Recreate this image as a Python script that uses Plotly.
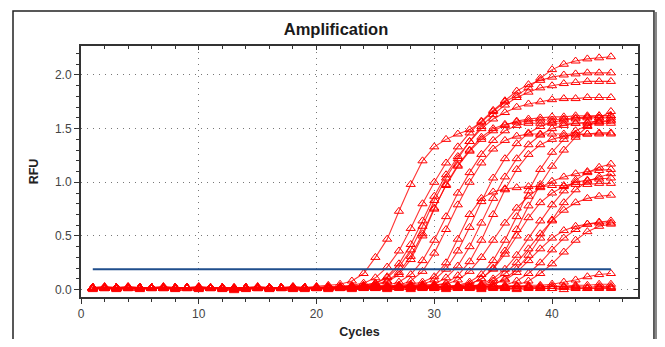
import plotly.graph_objects as go

cycles = list(range(1, 46))

# ---- amplification curves (RFU per cycle) ----
H1 = [0.01,0.02,0.01,0.02,0.01,0.01,0.02,0.01,0.01,0.02,0.01,0.01,0.00,0.01,0.02,
      0.01,0.01,0.02,0.02,0.03,0.04,0.05,0.08,0.15,0.30,0.47,0.73,0.98,1.20,1.33,
      1.40,1.45,1.49,1.56,1.66,1.75,1.81,1.88,1.97,2.05,2.10,2.13,2.15,2.16,2.17]
H2 = [0.02,0.01,0.01,0.02,0.02,0.01,0.01,0.01,0.02,0.01,0.01,0.02,0.01,0.01,0.01,
      0.02,0.01,0.01,0.02,0.02,0.02,0.03,0.04,0.06,0.11,0.21,0.36,0.57,0.80,1.00,
      1.18,1.33,1.46,1.57,1.67,1.76,1.85,1.91,1.95,1.98,2.00,2.01,2.02,2.02,2.02]
H3 = [0.01,0.01,0.02,0.01,0.01,0.02,0.01,0.02,0.01,0.01,0.02,0.01,0.01,0.02,0.01,
      0.01,0.02,0.01,0.02,0.02,0.02,0.03,0.03,0.04,0.06,0.11,0.21,0.37,0.59,0.83,
      1.04,1.22,1.38,1.52,1.63,1.72,1.79,1.84,1.88,1.90,1.92,1.93,1.94,1.94,1.94]
H4 = [0.02,0.02,0.01,0.01,0.02,0.01,0.01,0.02,0.01,0.02,0.01,0.01,0.01,0.01,0.02,
      0.01,0.01,0.01,0.02,0.02,0.02,0.02,0.03,0.04,0.06,0.12,0.24,0.42,0.64,0.87,
      1.07,1.24,1.38,1.50,1.59,1.65,1.70,1.73,1.75,1.77,1.78,1.78,1.79,1.79,1.79]
H5 = [0.01,0.02,0.02,0.01,0.01,0.01,0.02,0.01,0.02,0.01,0.01,0.01,0.02,0.01,0.01,
      0.02,0.01,0.02,0.01,0.02,0.02,0.02,0.03,0.03,0.04,0.07,0.14,0.28,0.50,0.75,
      0.98,1.16,1.30,1.42,1.50,1.54,1.56,1.57,1.58,1.58,1.59,1.59,1.60,1.60,1.60]
H6 = [0.02,0.01,0.01,0.01,0.02,0.02,0.01,0.01,0.01,0.02,0.02,0.01,0.01,0.01,0.02,
      0.01,0.02,0.01,0.01,0.02,0.02,0.02,0.02,0.03,0.03,0.04,0.07,0.14,0.27,0.46,
      0.68,0.90,1.09,1.26,1.39,1.48,1.53,1.55,1.55,1.55,1.55,1.55,1.55,1.55,1.55]
H7 = [0.01,0.01,0.02,0.02,0.01,0.01,0.01,0.02,0.02,0.01,0.01,0.02,0.00,0.01,0.01,
      0.02,0.02,0.01,0.02,0.01,0.02,0.02,0.02,0.03,0.03,0.03,0.04,0.08,0.17,0.34,
      0.56,0.79,1.00,1.18,1.31,1.39,1.43,1.45,1.45,1.45,1.45,1.45,1.45,1.46,1.46]
H8 = [0.02,0.01,0.02,0.01,0.01,0.02,0.01,0.01,0.02,0.01,0.02,0.01,0.01,0.01,0.01,
      0.01,0.02,0.02,0.01,0.02,0.02,0.02,0.03,0.03,0.05,0.08,0.16,0.31,0.52,0.76,
      0.97,1.15,1.29,1.40,1.48,1.53,1.57,1.59,1.60,1.61,1.61,1.62,1.62,1.62,1.62]
M1 = [0.01,0.02,0.01,0.01,0.02,0.01,0.02,0.01,0.01,0.01,0.02,0.01,0.01,0.02,0.01,
      0.01,0.01,0.02,0.01,0.01,0.02,0.02,0.02,0.02,0.03,0.03,0.03,0.04,0.05,0.09,
      0.19,0.36,0.58,0.82,1.04,1.22,1.36,1.46,1.52,1.56,1.58,1.60,1.61,1.62,1.62]
M2 = [0.02,0.01,0.01,0.02,0.01,0.01,0.01,0.02,0.01,0.02,0.01,0.01,0.01,0.01,0.02,
      0.02,0.01,0.01,0.02,0.02,0.01,0.02,0.02,0.02,0.02,0.03,0.03,0.03,0.04,0.05,
      0.11,0.22,0.40,0.62,0.85,1.05,1.22,1.35,1.44,1.50,1.53,1.55,1.56,1.57,1.57]
M3 = [0.01,0.01,0.02,0.02,0.01,0.02,0.01,0.01,0.02,0.01,0.01,0.02,0.01,0.01,0.01,
      0.02,0.01,0.02,0.02,0.01,0.02,0.02,0.02,0.03,0.03,0.03,0.04,0.05,0.07,0.12,
      0.25,0.47,0.70,0.85,0.91,0.94,0.95,0.96,0.96,0.97,0.97,0.98,0.98,0.99,0.99]
M4 = [0.02,0.02,0.01,0.01,0.01,0.02,0.02,0.01,0.01,0.02,0.01,0.01,0.02,0.01,0.01,
      0.01,0.02,0.02,0.01,0.02,0.02,0.01,0.02,0.02,0.03,0.03,0.03,0.03,0.04,0.04,
      0.06,0.13,0.26,0.46,0.70,0.93,1.12,1.26,1.35,1.40,1.43,1.44,1.45,1.45,1.45]
M5 = [0.01,0.02,0.02,0.01,0.01,0.01,0.01,0.02,0.02,0.01,0.01,0.01,0.01,0.02,0.01,
      0.01,0.01,0.02,0.02,0.01,0.02,0.02,0.02,0.02,0.02,0.03,0.03,0.03,0.03,0.04,
      0.05,0.09,0.17,0.30,0.46,0.62,0.76,0.87,0.95,1.01,1.05,1.08,1.10,1.11,1.12]
L0 = [0.02,0.01,0.01,0.01,0.02,0.01,0.01,0.01,0.02,0.02,0.01,0.01,0.01,0.01,0.02,
      0.01,0.02,0.01,0.01,0.02,0.01,0.02,0.02,0.02,0.02,0.02,0.03,0.03,0.03,0.03,
      0.03,0.04,0.07,0.14,0.27,0.46,0.68,0.92,1.12,1.28,1.40,1.48,1.53,1.56,1.58]
L1 = [0.01,0.01,0.01,0.02,0.01,0.02,0.01,0.02,0.01,0.01,0.02,0.01,0.01,0.01,0.01,
      0.02,0.01,0.01,0.02,0.01,0.01,0.02,0.02,0.01,0.02,0.02,0.02,0.02,0.02,0.02,
      0.02,0.03,0.05,0.10,0.20,0.36,0.56,0.78,0.98,1.15,1.30,1.42,1.52,1.60,1.66]
L2 = [0.02,0.01,0.02,0.01,0.01,0.01,0.02,0.01,0.01,0.02,0.01,0.02,0.01,0.01,0.01,
      0.01,0.01,0.02,0.01,0.02,0.02,0.01,0.02,0.02,0.02,0.02,0.02,0.02,0.02,0.02,
      0.02,0.03,0.03,0.05,0.10,0.19,0.32,0.48,0.64,0.79,0.92,1.02,1.09,1.14,1.17]
L3 = [0.01,0.02,0.01,0.01,0.02,0.01,0.01,0.01,0.01,0.01,0.02,0.02,0.00,0.01,0.02,
      0.02,0.01,0.01,0.01,0.02,0.01,0.02,0.01,0.02,0.02,0.02,0.02,0.02,0.02,0.02,
      0.02,0.02,0.03,0.04,0.05,0.10,0.19,0.32,0.48,0.65,0.81,0.93,1.01,1.05,1.08]
L4 = [0.02,0.02,0.01,0.02,0.01,0.02,0.01,0.01,0.02,0.01,0.01,0.01,0.01,0.02,0.01,
      0.01,0.02,0.01,0.02,0.01,0.02,0.02,0.01,0.02,0.02,0.02,0.02,0.02,0.03,0.03,
      0.03,0.04,0.05,0.10,0.19,0.33,0.50,0.67,0.81,0.90,0.96,1.00,1.02,1.03,1.04]
L5 = [0.01,0.01,0.02,0.01,0.02,0.02,0.02,0.01,0.01,0.01,0.02,0.01,0.01,0.01,0.02,
      0.01,0.01,0.01,0.02,0.02,0.01,0.01,0.02,0.02,0.02,0.02,0.02,0.02,0.02,0.02,
      0.02,0.03,0.03,0.04,0.08,0.15,0.25,0.38,0.52,0.64,0.74,0.81,0.85,0.87,0.88]
L6 = [0.02,0.01,0.01,0.02,0.01,0.01,0.02,0.02,0.01,0.02,0.01,0.01,0.01,0.01,0.01,
      0.02,0.01,0.02,0.01,0.01,0.02,0.01,0.02,0.01,0.02,0.02,0.02,0.02,0.02,0.02,
      0.02,0.02,0.03,0.03,0.03,0.04,0.08,0.15,0.25,0.37,0.48,0.56,0.61,0.63,0.64]
L7 = [0.01,0.02,0.02,0.01,0.01,0.02,0.01,0.01,0.02,0.01,0.02,0.01,0.01,0.02,0.01,
      0.01,0.02,0.01,0.01,0.02,0.01,0.02,0.01,0.02,0.01,0.02,0.02,0.02,0.02,0.02,
      0.02,0.02,0.02,0.03,0.03,0.03,0.04,0.08,0.15,0.24,0.35,0.46,0.54,0.59,0.61]
L8 = [0.02,0.01,0.01,0.01,0.02,0.01,0.02,0.01,0.01,0.02,0.01,0.01,0.01,0.01,0.02,
      0.01,0.01,0.02,0.02,0.01,0.02,0.01,0.02,0.02,0.02,0.02,0.02,0.02,0.02,0.02,
      0.02,0.03,0.03,0.04,0.05,0.09,0.16,0.27,0.38,0.48,0.55,0.59,0.61,0.62,0.62]
Z1 = [0.01,0.01,0.02,0.02,0.01,0.01,0.01,0.02,0.01,0.01,0.01,0.02,0.01,0.01,0.01,
      0.02,0.01,0.01,0.02,0.01,0.02,0.01,0.02,0.02,0.01,0.02,0.02,0.02,0.02,0.02,
      0.02,0.02,0.02,0.03,0.03,0.03,0.03,0.04,0.04,0.05,0.07,0.09,0.12,0.14,0.15]
Z2 = [0.02,0.01,0.01,0.01,0.02,0.02,0.01,0.01,0.01,0.02,0.01,0.01,0.01,0.02,0.01,
      0.01,0.02,0.01,0.01,0.01,0.02,0.01,0.01,0.02,0.02,0.01,0.02,0.02,0.02,0.02,
      0.01,0.02,0.02,0.02,0.02,0.02,0.03,0.02,0.03,0.03,0.03,0.04,0.04,0.05,0.05]
N1 = [0.01,0.01,0.01,0.02,0.01,0.01,0.02,0.01,0.01,0.01,0.01,0.01,0.00,0.01,0.01,
      0.01,0.01,0.01,0.02,0.01,0.01,0.01,0.01,0.02,0.01,0.01,0.02,0.01,0.01,0.01,
      0.02,0.01,0.01,0.01,0.02,0.01,0.01,0.02,0.01,0.01,0.02,0.02,0.01,0.02,0.02]
N2 = [0.00,0.01,0.00,0.01,0.00,0.01,0.01,0.00,0.01,0.00,0.01,0.00,-0.01,0.00,0.01,
      0.00,0.01,0.00,0.00,0.01,0.00,0.01,0.00,0.01,0.01,0.00,0.01,0.00,0.01,0.01,
      0.00,0.01,0.01,0.00,0.01,0.01,0.00,0.01,0.01,0.01,0.00,0.01,0.01,0.01,0.01]
N3 = [0.02,0.03,0.02,0.03,0.02,0.02,0.03,0.02,0.02,0.03,0.02,0.02,0.01,0.02,0.03,
      0.02,0.02,0.03,0.02,0.02,0.03,0.02,0.03,0.02,0.02,0.03,0.02,0.03,0.02,0.03,
      0.02,0.03,0.02,0.03,0.03,0.02,0.03,0.03,0.02,0.03,0.03,0.03,0.02,0.03,0.03]

curves = [N1, N2, N3, Z2, Z1, L7, L6, L8, L5, L4, L3, L2, L1, L0,
          M5, M4, M3, M2, M1, H8, H7, H6, H5, H4, H3, H2, H1]

threshold_value = 0.19
threshold_cycles = [1, 45]

x_ticks = [0, 10, 20, 30, 40]
x_tick_labels = ["0", "10", "20", "30", "40"]
y_ticks = [0.0, 0.5, 1.0, 1.5, 2.0]
y_tick_labels = ["0.0", "0.5", "1.0", "1.5", "2.0"]

RED = "rgb(255,0,0)"
AX = "#333333"
FONT = "Liberation Sans, Arial, sans-serif"

# page has an 8px body margin: figure is sized to fit the 665x347 window
FIG_W, FIG_H = 649, 331
OFF = 8
ML, MR, MT, MB = 81 - OFF, FIG_W - (638 - OFF), 46 - OFF, FIG_H - (297 - OFF)

fig = go.Figure()
for c in curves:
    fig.add_trace(go.Scatter(
        x=cycles, y=c, mode="lines+markers",
        line=dict(color="rgba(255,0,0,0.8)", width=1.1),
        marker=dict(symbol="triangle-up-open", size=8, color=RED,
                    line=dict(color=RED, width=1)),
        showlegend=False, hoverinfo="skip"))

fig.add_trace(go.Scatter(
    x=threshold_cycles, y=[threshold_value, threshold_value],
    xaxis="x2", yaxis="y2", mode="lines",
    line=dict(color="#1f4e8c", width=2),
    showlegend=False, hoverinfo="skip"))

X_RANGE = [0, 47.3]
Y_RANGE = [-0.069, 2.27]
grid = dict(showgrid=True, gridcolor="#777777", gridwidth=1, griddash="1px,5px")

fig.update_layout(
    width=FIG_W, height=FIG_H,
    margin=dict(l=ML, r=MR, t=MT, b=MB, pad=0, autoexpand=False),
    paper_bgcolor="white", plot_bgcolor="white",
    showlegend=False,
    font=dict(family=FONT, color="#222222"),
    title=dict(text="<b>Amplification</b>", x=(336 - OFF) / FIG_W, xref="container", xanchor="center",
               y=1 - (29 - OFF) / FIG_H, yref="container", yanchor="middle",
               font=dict(size=16.5, family=FONT, color="#1a1a1a")),
    xaxis=dict(range=X_RANGE, tickmode="array", tickvals=x_ticks, ticktext=x_tick_labels,
               ticks="outside", ticklen=5, tickwidth=1, tickcolor=AX, automargin=False,
               showline=True, linecolor=AX, linewidth=2, zeroline=False,
               minor=dict(dtick=2, tick0=0, ticks="outside", ticklen=3, tickcolor=AX, showgrid=False),
               tickfont=dict(size=12, color="#444444"),
               title=dict(text="<b>Cycles</b>", font=dict(size=12.5, color="#222222"), standoff=10),
               **grid),
    yaxis=dict(range=Y_RANGE, tickmode="array", tickvals=y_ticks, ticktext=y_tick_labels,
               ticks="outside", ticklen=5, tickwidth=1, tickcolor=AX, automargin=False,
               showline=True, linecolor=AX, linewidth=2, zeroline=False,
               minor=dict(dtick=0.1, tick0=0, ticks="outside", ticklen=3, tickcolor=AX, showgrid=False),
               tickfont=dict(size=12, color="#444444"),
               title=dict(text="<b>RFU</b>", font=dict(size=12.5, color="#222222"), standoff=14),
               **grid),
    xaxis2=dict(range=X_RANGE, overlaying="x", side="top", anchor="y2", matches="x",
                tickmode="array", tickvals=x_ticks, showticklabels=False, automargin=False,
                ticks="inside", ticklen=4, tickcolor=AX,
                showline=True, linecolor=AX, linewidth=2, zeroline=False, showgrid=False,
                minor=dict(dtick=2, tick0=0, ticks="inside", ticklen=3, tickcolor=AX, showgrid=False)),
    yaxis2=dict(range=Y_RANGE, overlaying="y", side="right", anchor="x2", matches="y",
                tickmode="array", tickvals=y_ticks, showticklabels=False, automargin=False,
                ticks="inside", ticklen=4, tickcolor=AX,
                showline=True, linecolor=AX, linewidth=2, zeroline=False, showgrid=False,
                minor=dict(dtick=0.1, tick0=0, ticks="inside", ticklen=3, tickcolor=AX, showgrid=False)),
)

# outer frame around the whole panel (page pixel positions converted to paper units)
PW = 638 - 81
PH = 297 - 46
def px_x(p):
    return (p - 81) / PW
def px_y(p):
    return (297 - p) / PH

fig.add_shape(type="rect", xref="paper", yref="paper",
              x0=px_x(13), x1=px_x(654), y0=px_y(380), y1=px_y(11),
              line=dict(color="#222222", width=1.5), fillcolor="rgba(0,0,0,0)", layer="above")
fig.add_shape(type="line", xref="paper", yref="paper",
              x0=px_x(656), x1=px_x(656), y0=px_y(380), y1=px_y(12),
              line=dict(color="#888888", width=2.5), layer="above")

fig.write_html("out.html")
